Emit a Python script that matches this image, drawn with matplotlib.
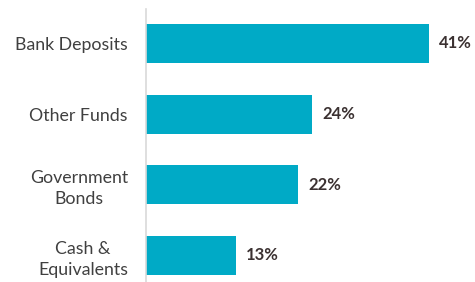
import matplotlib
matplotlib.use("Agg")
import matplotlib.pyplot as plt

# chart data
categories = ["Bank Deposits", "Other Funds", "Government\nBonds", "Cash &\nEquivalents"]
shares = [41, 24, 22, 13]
value_labels = ["41%", "24%", "22%", "13%"]

bar_color = "#00AAC6"
label_color = "#404040"
value_color = "#3B3131"

plt.rcParams['font.family'] = ['Lato', 'DejaVu Sans']

fig = plt.figure(figsize=(4.75, 2.82), dpi=100)
ax = fig.add_axes([146 / 475, 0, 329 / 475, 273 / 282])

ypos = list(range(len(categories)))
ax.barh(ypos, shares, height=0.55, color=bar_color)

for y, v, txt in zip(ypos, shares, value_labels):
    ax.text(v + 1.5, y, txt, va="center", ha="left", fontsize=12,
            fontweight="bold", color=value_color)

ax.set_yticks(ypos)
ax.set_yticklabels(categories, fontsize=12.8, color=label_color,
                   multialignment="center", linespacing=1.35)
ax.tick_params(axis="y", length=0, pad=13)
ax.set_xticks([])

ax.set_xlim(0, 47.7)
ax.set_ylim(3.375, -0.488)

for side in ["top", "right", "bottom"]:
    ax.spines[side].set_visible(False)
ax.spines["left"].set_color("#D9D9D9")
ax.spines["left"].set_linewidth(1.2)

fig.savefig("out.png", dpi=100)
